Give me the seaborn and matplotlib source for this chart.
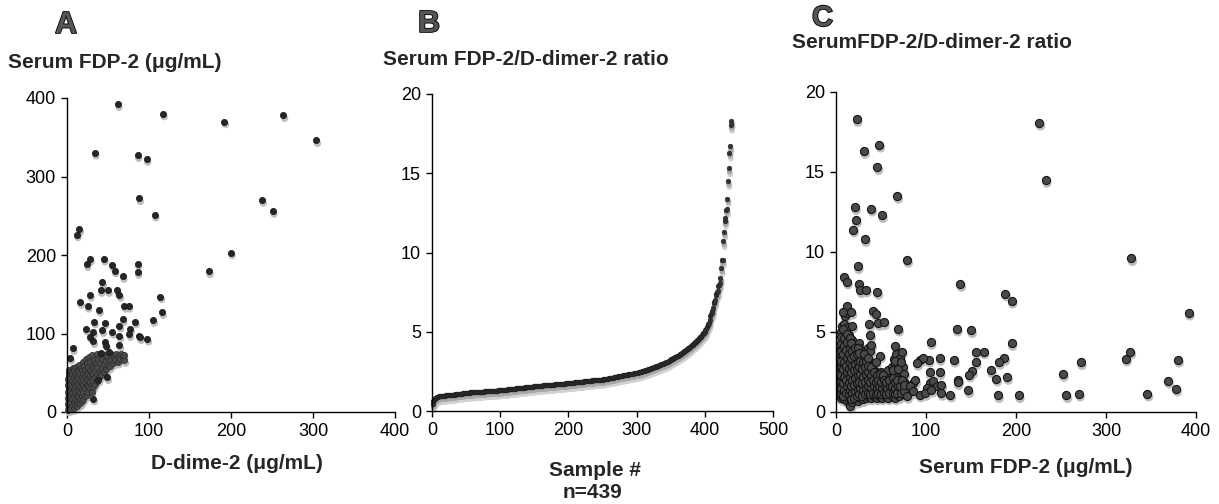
import numpy as np
import pandas as pd
import matplotlib
matplotlib.use("Agg")
import matplotlib.pyplot as plt
import matplotlib.patheffects as pe
from matplotlib.transforms import offset_copy
import seaborn as sns

# ---------------- data ----------------
# Panel A: (D-dimer-2, Serum FDP-2) - isolated points
a_outliers = [(62,392),(117,380),(192,370),(264,378),(304,346),(34,330),(86,327),(97,322),
              (88,272),(107,251),(238,270),(251,256),(12,226),(15,233),(200,203),(173,179),
              (28,195),(24,188),(45,195),(55,187),(58,180),(68,173),(86,189),(86,178),
              (43,165),(41,155),(50,155),(61,155),(64,149),(28,149),(16,140),(25,135),
              (39,130),(70,135),(75,135),(114,147),(116,127),(33,115),(46,114),(68,118),
              (83,115),(105,117),(23,106),(43,104),(32,102),(55,102),(64,110),(77,106),
              (28,96),(32,90),(64,97),(76,99),(88,97),(89,95),(98,93),(46,89),(48,84),
              (64,85),(41,75),(51,76),(7,81),(4,69),(49,44),(38,41),(32,17)]
# Panel A: dense cluster near the origin
a_cluster = [(1,3),(1,10),(1,18),(1,26),(1,34),(1,42),(2,50),(2,6),(2,14),(2,22),(2,30),(2,38),(2,46),(3,54),
             (4,4),(4,11),(4,19),(4,27),(4,35),(4,43),(5,51),(6,8),(6,16),(6,24),(6,32),(6,40),(6,48),(7,56),
             (8,5),(8,13),(8,21),(8,29),(8,37),(8,45),(9,53),(10,9),(10,17),(10,25),(10,33),(10,41),(10,49),(11,57),
             (12,8),(12,14),(12,22),(12,30),(12,38),(12,46),(13,54),(14,12),(14,19),(14,27),(14,35),(14,43),(14,51),(15,60),
             (16,11),(16,16),(16,24),(16,32),(16,40),(16,48),(17,56),(18,14),(18,21),(18,29),(18,37),(18,45),(18,53),(19,64),
             (20,17),(20,26),(20,34),(20,42),(20,50),(21,58),(22,20),(22,30),(22,38),(22,46),(22,54),(23,68),
             (24,22),(24,35),(24,43),(24,51),(24,62),(26,26),(26,33),(26,41),(26,49),(26,57),(27,70),
             (28,30),(28,38),(28,46),(28,54),(28,64),(30,26),(30,35),(30,43),(30,51),(30,59),(31,72),
             (32,32),(32,40),(32,48),(32,56),(33,66),(34,36),(34,45),(34,53),(35,62),(36,74),(36,40),
             (37,49),(37,57),(38,68),(39,44),(40,52),(40,62),(41,73),(42,47),(43,56),(43,67),(45,51),
             (45,61),(46,72),(48,55),(48,65),(50,60),(50,70),(52,58),(53,66),(54,74),(56,62),(57,70),
             (59,66),(60,74),(62,64),(63,71),(65,68),(66,74),(68,70),(70,66),(69,73)]

# Panel B: sorted FDP-2/D-dimer-2 ratio, n = 439
b_ratio = [
 0.45,0.62,0.70,0.76,0.80,0.83,0.86,0.88,0.90,0.92,
 0.93,0.94,0.94,0.95,0.95,0.96,0.96,0.97,0.97,0.98,0.98,0.99,0.99,1.00,1.00,1.01,1.01,1.02,1.02,1.03,
 1.03,1.04,1.04,1.05,1.05,1.06,1.07,1.07,1.08,1.08,1.09,1.09,1.10,1.10,1.11,1.12,1.12,1.13,1.14,1.15,
 1.15,1.15,1.16,1.16,1.16,1.17,1.17,1.17,1.18,1.18,1.18,1.19,1.19,1.19,1.20,1.20,1.20,1.21,1.21,1.21,
 1.22,1.22,1.22,1.23,1.23,1.23,1.24,1.24,1.24,1.25,1.25,1.25,1.26,1.26,1.26,1.27,1.27,1.27,1.28,1.28,
 1.28,1.28,1.29,1.29,1.29,1.29,1.30,1.30,1.30,1.30,
 1.31,1.31,1.32,1.32,1.33,1.33,1.34,1.34,1.35,1.35,1.36,1.36,1.37,1.37,1.38,1.38,1.39,1.39,1.40,1.40,
 1.41,1.41,1.42,1.42,1.43,1.43,1.44,1.44,1.45,1.45,1.46,1.46,1.47,1.47,1.48,1.48,1.49,1.49,1.50,1.50,
 1.51,1.51,1.52,1.52,1.53,1.53,1.54,1.54,1.55,1.55,
 1.56,1.56,1.57,1.57,1.58,1.58,1.58,1.59,1.59,1.60,1.60,1.60,1.61,1.61,1.62,1.62,1.62,1.63,1.63,1.64,
 1.64,1.64,1.65,1.65,1.66,1.66,1.66,1.67,1.67,1.68,1.68,1.68,1.69,1.69,1.70,1.70,1.70,1.71,1.71,1.72,
 1.72,1.72,1.73,1.73,1.73,1.74,1.74,1.74,1.75,1.75,
 1.76,1.76,1.77,1.77,1.78,1.78,1.79,1.79,1.80,1.80,1.81,1.81,1.82,1.82,1.83,1.83,1.84,1.84,1.85,1.85,
 1.86,1.86,1.87,1.87,1.88,1.88,1.89,1.89,1.90,1.90,1.91,1.91,1.92,1.92,1.93,1.93,1.94,1.94,1.95,1.95,
 1.95,1.96,1.96,1.96,1.97,1.97,1.97,1.98,1.98,1.98,
 1.99,2.00,2.01,2.02,2.02,2.03,2.04,2.05,2.06,2.06,2.07,2.08,2.09,2.10,2.10,2.11,2.12,2.13,2.14,2.15,
 2.16,2.17,2.18,2.19,2.20,2.21,2.22,2.22,2.23,2.24,2.25,2.26,2.27,2.28,2.28,2.29,2.30,2.31,2.32,2.32,
 2.33,2.34,2.35,2.35,2.36,2.37,2.38,2.38,2.39,2.40,
 2.41,2.42,2.43,2.44,2.46,2.47,2.48,2.50,2.51,2.52,2.54,2.55,2.57,2.58,2.60,2.61,2.63,2.64,2.66,2.68,
 2.69,2.71,2.72,2.74,2.76,2.77,2.79,2.80,2.82,2.84,2.85,2.87,2.89,2.90,2.92,2.94,2.95,2.97,2.99,3.00,
 3.02,3.04,3.06,3.08,3.10,3.12,3.14,3.17,3.20,3.23,
 3.25,3.28,3.31,3.33,3.36,3.38,3.40,3.43,3.45,3.48,3.50,3.53,3.56,3.58,3.61,3.64,3.67,3.70,3.73,3.76,
 3.79,3.82,3.86,3.89,3.92,3.96,3.99,4.03,4.06,4.10,4.14,4.18,4.22,4.26,4.30,4.34,4.38,4.42,4.46,4.50,
 4.55,4.60,4.65,4.70,4.75,4.80,4.85,4.90,4.95,5.00,
 5.10,5.20,5.30,5.40,5.50,5.55,5.75,6.00,6.10,6.20,6.30,6.50,6.80,6.90,7.00,7.30,7.40,7.50,7.55,7.90,
 7.95,8.10,8.40,9.00,9.50,9.55,10.70,11.30,12.00,12.15,12.70,12.75,13.40,14.50,15.30,16.30,16.70,18.05,18.30]

# Panel C: (Serum FDP-2, ratio) - isolated points
c_outliers = [(23,18.3),(226,18.07),(31,16.3),(48,16.7),(46,15.3),(233,14.5),(68,13.5),(21,12.8),
              (39,12.7),(51,12.3),(22,12.0),(19,11.4),(32,10.8),(79,9.5),(328,9.6),(24,9.1),
              (9,8.45),(12,8.15),(25,8.0),(27,7.6),(33,7.65),(46,7.5),(138,8.0),(188,7.4),
              (195,6.95),(392,6.2),(12,6.65),(8,6.25),(17,6.25),(41,6.3),(44,6.1),(37,5.5),
              (47,5.55),(53,5.6),(38,4.8),(69,5.2),(134,5.2),(150,5.1),(105,4.37),(195,4.3),
              (49,3.53),(44,3.1),(66,4.1),(73,3.78),(155,3.78),(164,3.78),(155,3.12),(131,3.26),
              (115,3.37),(103,3.26),(187,3.37),(181,3.12),(272,3.1),(322,3.33),(327,3.78),
              (380,3.26),(93,3.26),(97,3.37),(90,3.06),(172,2.6),(151,2.54),(148,2.33),
              (104,2.47),(115,2.47),(178,2.08),(190,2.18),(252,2.37),(369,1.95),(378,1.46),
              (136,2.02),(135,1.85),(147,1.35),(127,1.08),(180,1.04),(203,1.04),(256,1.04),
              (270,1.14),(346,1.14),(88,1.97),(104,1.81),(108,1.91),(112,1.6),(117,1.7),
              (101,1.5),(93,1.08),(99,1.18),(106,1.39),(117,1.18),(82,1.6),(86,1.29)]
# Panel C: dense cluster at low FDP
c_cluster = [(5,0.9),(6,1.3),(5,1.7),(6,2.1),(5,2.6),(6,3.0),(5,3.5),(6,4.0),(7,4.5),(6,5.0),(7,5.4),(7,1.0),(7,2.4),(7,3.3),
             (9,0.8),(8,1.2),(9,1.6),(8,2.0),(9,2.5),(8,2.9),(10,3.4),(9,3.9),(8,4.4),(10,4.8),(9,5.5),(10,1.1),(10,2.2),(10,6.0),
             (12,0.7),(11,1.0),(12,1.4),(13,1.8),(11,2.3),(12,2.7),(13,3.2),(11,3.6),(12,4.1),(13,4.6),(11,5.0),(13,5.3),(12,6.2),
             (15,0.5),(14,0.9),(16,1.2),(15,1.6),(14,2.0),(16,2.4),(15,2.9),(14,3.3),(16,3.8),(15,4.3),(14,4.8),(16,0.4),
             (18,0.6),(17,1.0),(19,1.4),(18,1.8),(17,2.2),(19,2.7),(18,3.1),(17,3.6),(19,4.1),(18,4.5),(18,5.4),
             (21,0.8),(20,1.1),(22,1.5),(21,1.9),(20,2.4),(22,2.8),(21,3.3),(20,3.8),(22,4.2),
             (24,0.7),(23,1.2),(25,1.6),(24,2.0),(23,2.5),(25,2.9),(24,3.4),(23,3.9),(25,4.3),
             (27,0.9),(26,1.3),(28,1.7),(27,2.1),(26,2.6),(28,3.0),(27,3.5),(26,4.0),
             (30,0.8),(29,1.2),(31,1.6),(30,2.0),(29,2.5),(31,2.9),(30,3.4),(29,3.8),
             (33,0.9),(32,1.3),(34,1.7),(33,2.2),(32,2.6),(34,3.0),(33,3.5),
             (36,1.0),(35,1.4),(37,1.8),(36,2.2),(35,2.7),(37,3.1),(36,4.0),
             (39,0.9),(38,1.3),(40,1.7),(39,2.1),(38,2.6),(40,2.9),(38,3.8),(39,4.2),
             (42,1.0),(41,1.4),(43,1.8),(42,2.3),(41,2.7),(45,0.9),(44,1.3),(46,1.7),(45,2.1),(44,2.5),
             (48,1.0),(47,1.4),(49,1.8),(48,2.2),(51,0.9),(50,1.3),(52,1.7),(51,2.1),(50,2.5),
             (54,1.0),(53,1.4),(55,1.8),(56,2.2),(58,0.9),(57,1.3),(59,1.7),(60,2.1),(58,2.6),
             (62,1.0),(61,1.4),(63,1.8),(64,2.3),(62,2.8),(64,3.3),(66,0.9),(65,1.3),(67,1.7),(68,2.2),(66,3.0),(67,3.6),
             (70,1.0),(69,1.4),(71,1.8),(72,2.5),(70,2.9),(71,3.4),(74,1.1),(73,1.5),(75,1.9),(74,2.8),(76,2.4),
             (78,1.2),(77,1.6),(80,1.4),(84,1.3),(86,1.8)]
c_cluster_fill = [(5,1.1),(6,1.5),(5,1.9),(6,2.3),(5,2.8),(6,3.2),(5,3.8),(6,4.3),(6,4.7),
                  (8,1.0),(9,1.4),(8,1.8),(9,2.2),(8,2.7),(9,3.1),(8,3.6),(9,4.1),(9,4.6),(8,5.2),
                  (11,1.2),(12,1.6),(11,2.0),(12,2.5),(11,2.9),(12,3.4),(11,3.9),(12,4.4),(12,4.9),
                  (14,1.1),(15,1.4),(14,1.8),(15,2.2),(14,2.7),(15,3.1),(14,3.6),(15,4.0),(15,4.6),
                  (17,0.8),(18,1.2),(17,1.6),(18,2.0),(17,2.5),(18,2.9),(17,3.4),(18,3.8),(17,4.3),
                  (20,0.9),(21,1.3),(20,1.7),(21,2.1),(20,2.6),(21,3.0),(20,3.5),(21,4.0),
                  (23,1.0),(24,1.4),(23,1.8),(24,2.3),(23,2.7),(24,3.1),(23,3.6),(24,4.0),
                  (26,1.1),(27,1.5),(26,1.9),(27,2.4),(26,2.8),(27,3.2),(26,3.7),
                  (29,1.0),(30,1.4),(29,1.8),(30,2.2),(29,2.7),(30,3.1),(31,3.6),
                  (32,1.1),(33,1.5),(32,1.9),(33,2.4),(32,2.8),(33,3.2),
                  (35,1.2),(36,1.6),(35,2.0),(36,2.5),(35,2.9),(36,3.4),
                  (38,1.1),(39,1.5),(38,1.9),(39,2.3),(39,2.8),
                  (41,1.2),(42,1.6),(41,2.0),(42,2.5),(44,1.1),(45,1.5),(44,1.9),(45,2.3),
                  (47,1.2),(48,1.6),(47,2.0),(49,2.4),(50,1.1),(51,1.5),(50,1.9),(52,2.3),
                  (53,1.2),(54,1.6),(53,2.0),(56,1.1),(57,1.5),(56,1.9),(59,1.2),(60,1.6),(59,2.0),
                  (63,1.2),(62,1.6),(63,2.1),(65,1.1),(66,1.5),(65,1.9),(63,2.6),(65,3.2),
                  (68,1.2),(69,1.6),(68,2.0),(69,2.7),(72,1.2),(71,1.6),(73,2.0),(72,3.1),
                  (76,1.3),(76,1.7),(79,1.0)]

a_xticks = [0, 100, 200, 300, 400]
a_yticks = [0, 100, 200, 300, 400]
b_xticks = [0, 100, 200, 300, 400, 500]
ratio_ticks = [0, 5, 10, 15, 20]
c_xticks = [0, 100, 200, 300, 400]

# ---------------- figure ----------------
sns.set_style("ticks")
plt.rcParams["font.family"] = ["Liberation Sans", "DejaVu Sans"]

W, H = 1219, 504
fig = plt.figure(figsize=(W / 100, H / 100), dpi=100)


def px_axes(left, top, right, bottom):
    return fig.add_axes([left / W, 1 - bottom / H, (right - left) / W, (bottom - top) / H])


axA = px_axes(67, 98, 395, 412)
axB = px_axes(432, 94, 773, 411)
axC = px_axes(836, 92, 1196, 412)


def shadow_scatter(ax, df, s, face, edge, shadow, dx=1.2, dy=-2.6, lw=0.5, grow=1.35):
    tr = offset_copy(ax.transData, fig=fig, x=dx, y=dy, units="dots")
    sns.scatterplot(data=df, x="x", y="y", ax=ax, s=s * grow, color=shadow,
                    edgecolor="none", linewidth=0, transform=tr, legend=False,
                    zorder=2, clip_on=False)
    sns.scatterplot(data=df, x="x", y="y", ax=ax, s=s, color=face,
                    edgecolor=edge, linewidth=lw, legend=False, zorder=3,
                    clip_on=False)


dfA_clu = pd.DataFrame(a_cluster, columns=["x", "y"])
dfA_out = pd.DataFrame(a_outliers, columns=["x", "y"])
dfB = pd.DataFrame({"x": np.arange(1, len(b_ratio) + 1), "y": b_ratio})
dfC = pd.DataFrame(c_cluster + c_cluster_fill + c_outliers, columns=["x", "y"])

shadow_scatter(axA, dfA_clu, 20, "#4a4a4a", "#2a2a2a", "#bdbdbd", dy=-3.0)
shadow_scatter(axA, dfA_out, 20, "#262626", "#111111", "#bdbdbd", dy=-3.0)
# B: two shadow layers to mimic the soft grey band under the curve
trB = offset_copy(axB.transData, fig=fig, x=1.5, y=-6.0, units="dots")
sns.scatterplot(data=dfB, x="x", y="y", ax=axB, s=16, color="#d2d2d2", edgecolor="none",
                linewidth=0, transform=trB, legend=False, zorder=1, clip_on=False)
shadow_scatter(axB, dfB, 12, "#333333", "#1a1a1a", "#a8a8a8", dx=1.0, dy=-3.2, lw=0.3, grow=1.4)
shadow_scatter(axC, dfC, 34, "#4a4a4a", "#141414", "#bdbdbd", dx=1.2, dy=-3.0, lw=0.8)

for ax, xt, yt, xl, yl in [(axA, a_xticks, a_yticks, (0, 400), (0, 400)),
                           (axB, b_xticks, ratio_ticks, (0, 500), (0, 20)),
                           (axC, c_xticks, ratio_ticks, (0, 400), (0, 20))]:
    ax.set_xlim(*xl)
    ax.set_ylim(*yl)
    ax.set_xticks(xt)
    ax.set_yticks(yt)
    ax.set_xlabel("")
    ax.set_ylabel("")
    sns.despine(ax=ax)
    for sp in ("left", "bottom"):
        ax.spines[sp].set_linewidth(1.0)
        ax.spines[sp].set_color("black")
        ax.spines[sp].set_zorder(5)
    ax.tick_params(direction="out", length=4, width=1, colors="black",
                   labelsize=13, pad=4)
    ax.patch.set_alpha(0)


def ftext(x, y, s, **kw):
    fig.text(x / W, 1 - y / H, s, va="baseline", **kw)


letter_fx = [pe.withStroke(linewidth=1.2, foreground="black")]
ftext(55, 33, "A", fontsize=22, fontweight="bold", color="#555555", path_effects=letter_fx)
ftext(418, 32, "B", fontsize=22, fontweight="bold", color="#555555", path_effects=letter_fx)
ftext(812, 26, "C", fontsize=21, fontweight="bold", color="#555555", path_effects=letter_fx)

ftext(8, 68, "Serum FDP-2 (μg/mL)", fontsize=15, fontweight="bold")
ftext(383, 65, "Serum FDP-2/D-dimer-2 ratio", fontsize=15, fontweight="bold")
ftext(792, 48, "SerumFDP-2/D-dimer-2 ratio", fontsize=15, fontweight="bold")

ftext(237, 469, "D-dime-2 (μg/mL)", fontsize=15, fontweight="bold", ha="center")
ftext(595, 476, "Sample #", fontsize=15, fontweight="bold", ha="center")
ftext(592, 498, "n=439", fontsize=15, fontweight="bold", ha="center")
ftext(1026, 473, "Serum FDP-2 (μg/mL)", fontsize=15, fontweight="bold", ha="center")

fig.savefig("out.png", dpi=100)
